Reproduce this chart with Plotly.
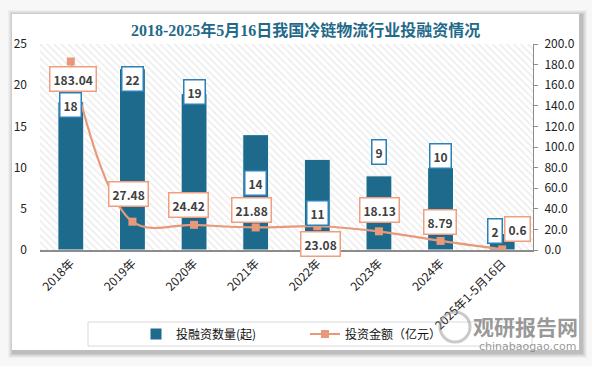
import plotly.graph_objects as go

# ---------------- data ----------------
categories = ["2018年", "2019年", "2020年", "2021年", "2022年", "2023年", "2024年", "2025年1-5月16日"]
deal_counts = [18, 22, 19, 14, 11, 9, 10, 2]
amounts = [183.04, 27.48, 24.42, 21.88, 23.08, 18.13, 8.79, 0.6]
left_ticks = [0, 5, 10, 15, 20, 25]
right_ticks = [0, 20, 40, 60, 80, 100, 120, 140, 160, 180, 200]

# ---------------- style ----------------
W, H = 592, 366
L, R, T, B = 40, 533, 44, 250
BAR = "#1e6a8d"
LINE = "#e8997a"
BAR_BORDER = "#2a80b9"
LINE_BORDER = "#ef9f7e"
TXT = "#404040"
FONT = "Noto Sans CJK SC, Liberation Sans, sans-serif"

def px(xp):
    return (xp - L) / (R - L)

def py(yp):
    return (B - yp) / (B - T)

fig = go.Figure()

# hatched plot background
fig.add_trace(go.Bar(
    x=categories, y=[left_ticks[-1]] * len(categories), width=1,
    marker=dict(color="#d2d2d2", line=dict(width=0),
                pattern=dict(shape="\\", fgcolor="#d2d2d2", bgcolor="white", size=5, solidity=0.25)),
    hoverinfo="skip", showlegend=False))

fig.add_trace(go.Bar(
    x=categories, y=deal_counts, name="投融资数量(起)", width=0.42,
    marker=dict(color=BAR, line=dict(color="white", width=1))))

fig.add_trace(go.Scatter(
    x=categories, y=amounts, name="投资金额（亿元）", yaxis="y2",
    mode="lines+markers", line=dict(color=LINE, width=2.2, shape="spline", smoothing=1.0),
    marker=dict(symbol="square", size=8, color=LINE)))

annotations = []
# bar labels: (yshift, xshift)
bar_off = [(-3, 0), (-10, 0), (1, 0), (-48, 0), (-54, 0), (24, 0), (12, 0), (3, -7)]
for c, v, (ys, xs) in zip(categories, deal_counts, bar_off):
    annotations.append(dict(x=c, y=v, xref="x", yref="y", text=f"<b>{v}</b>", showarrow=False,
                            yshift=ys, xshift=xs, bgcolor="white", bordercolor=BAR_BORDER,
                            borderwidth=1.5, borderpad=3,
                            font=dict(family=FONT, size=12, color=TXT)))
line_off = [(-18, 2), (28, -4), (20, -6), (17, -4), (-18, 3), (21, 1), (19, -1), (20, 15)]
for c, v, (ys, xs) in zip(categories, amounts, line_off):
    annotations.append(dict(x=c, y=v, xref="x", yref="y2", text=f"<b>{v:g}</b>", showarrow=False,
                            yshift=ys, xshift=xs, bgcolor="white", bordercolor=LINE_BORDER,
                            borderwidth=1.5, borderpad=3,
                            font=dict(family=FONT, size=12, color=TXT)))

# title
annotations.append(dict(x=px(305), y=py(30), xref="paper", yref="paper", showarrow=False,
                        xanchor="center", yanchor="middle",
                        text="<b>2018-2025年5月16日我国冷链物流行业投融资情况</b>",
                        font=dict(family="Liberation Serif, Noto Sans CJK SC", size=16, color="#1f6a8a")))
# watermark
annotations.append(dict(x=px(525), y=py(326), xref="paper", yref="paper", showarrow=False,
                        xanchor="center", yanchor="middle",
                        text="<b>观研报告网</b>",
                        font=dict(family=FONT, size=21, color="rgba(125,125,125,0.8)")))
annotations.append(dict(x=px(528), y=py(346), xref="paper", yref="paper", showarrow=False,
                        xanchor="center", yanchor="middle",
                        text="chinabaogao.com",
                        font=dict(family="DejaVu Sans, sans-serif", size=11, color="rgba(125,125,125,0.8)")))

shapes = []
# card shadow
for i, op in enumerate([0.03, 0.04, 0.05, 0.06, 0.07]):
    d = 6 - i
    shapes.append(dict(type="rect", xref="paper", yref="paper", layer="below",
                       x0=px(12 - d + 2), x1=px(579 + d + 2), y0=py(14 - d + 2), y1=py(350 + d + 2),
                       fillcolor=f"rgba(0,0,0,{op})", line=dict(width=0)))
shapes.append(dict(type="rect", xref="paper", yref="paper", layer="below",
                   x0=px(12), x1=px(579), y0=py(14), y1=py(350),
                   fillcolor="white", line=dict(width=0)))
# legend box
shapes.append(dict(type="rect", xref="paper", yref="paper", layer="below",
                   x0=px(88), x1=px(532), y0=py(322), y1=py(346),
                   fillcolor="white", line=dict(color="#d9d9d9", width=1)))
# watermark swirl
shapes.append(dict(type="circle", xref="paper", yref="paper", layer="above",
                   x0=px(440), x1=px(470), y0=py(312), y1=py(342),
                   fillcolor="rgba(0,0,0,0)", line=dict(color="rgba(150,150,150,0.5)", width=3)))

fig.update_layout(
    width=W, height=H,
    margin=dict(l=L, r=W - R, t=T, b=H - B, pad=0, autoexpand=False),
    paper_bgcolor="#f7f7f7", plot_bgcolor="rgba(0,0,0,0)",
    barmode="overlay",
    font=dict(family=FONT, size=12, color="#222"),
    xaxis=dict(type="category", tickangle=-45, showgrid=False, showline=True,
               linecolor="#8c8c8c", linewidth=1.5, ticks="", range=[-0.5, 7.5],
               tickfont=dict(size=12, color="#222")),
    yaxis=dict(range=[0, 25], tickvals=left_ticks, showgrid=False, zeroline=False,
               showline=False, ticks="", ticklabelstandoff=12,
               tickfont=dict(size=12, color="#222")),
    yaxis2=dict(range=[0, 200], tickvals=right_ticks, ticktext=[f"{t:.1f}" for t in right_ticks],
                overlaying="y", side="right", showgrid=False, zeroline=False,
                showline=True, linecolor="#8c8c8c", linewidth=1, ticks="outside",
                ticklen=4, tickcolor="#8c8c8c", ticklabelstandoff=4,
                tickfont=dict(size=12, color="#222")),
    legend=dict(orientation="h", x=px(305), xanchor="center", y=py(334), yanchor="middle",
                bgcolor="rgba(0,0,0,0)", borderwidth=0, traceorder="normal",
                font=dict(size=12, color="#111"), entrywidth=124, itemwidth=30),
    shapes=shapes, annotations=annotations,
)

fig.write_html("out.html", config={"displayModeBar": False},
               post_script="document.body.style.margin='0';document.body.style.padding='0';")
